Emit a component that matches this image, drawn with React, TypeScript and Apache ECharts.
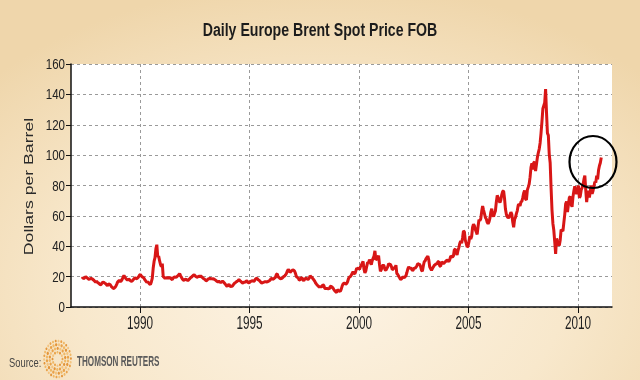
import React, { useEffect, useRef } from "react";
import * as echarts from "echarts";

// Two readings per month (early / late).
const p1987 = [18.5, 19.2, 18.7, 19.3, 20.0, 19.5, 19.0, 18.4, 18.2, 18.6, 18.9, 18.6, 18.1, 17.6, 16.9, 16.2]; // May–Dec
const p1988 = [17.0, 16.2, 15.8, 15.3, 14.6, 14.9, 15.8, 16.3, 16.2, 15.6, 15.4, 14.6, 14.0, 15.2, 15.0, 14.6, 13.6, 13.0, 12.4, 12.2, 12.8, 13.6, 14.9, 16.4];
const p1989 = [17.0, 17.6, 16.8, 17.2, 18.2, 19.6, 20.8, 19.8, 18.8, 18.2, 17.6, 18.3, 18.0, 17.4, 16.9, 17.2, 17.8, 18.6, 19.2, 18.8, 18.6, 19.2, 19.8, 21.0];
const p1990 = [21.5, 20.4, 19.8, 19.5, 18.9, 17.8, 17.0, 16.2, 16.8, 15.9, 15.2, 14.8, 16.5, 18.8, 25.5, 30.0, 32.5, 38.5, 41.0, 33.0, 33.5, 30.5, 28.0, 26.5];
const p1991 = [28.5, 20.0, 19.5, 18.8, 19.3, 19.0, 19.5, 19.0, 19.2, 19.3, 18.4, 18.0, 19.2, 19.6, 19.8, 19.4, 20.0, 20.6, 21.2, 22.0, 20.6, 19.5, 18.5, 17.8];
const p1992 = [17.6, 18.4, 18.2, 17.8, 17.4, 18.0, 18.6, 19.4, 19.7, 20.3, 21.0, 21.2, 20.5, 19.9, 19.6, 19.8, 20.3, 20.1, 20.4, 19.9, 19.4, 18.8, 18.4, 18.0];
const p1993 = [17.2, 17.6, 18.3, 18.6, 18.8, 18.5, 18.7, 18.5, 18.6, 18.2, 17.9, 17.4, 16.8, 16.5, 16.9, 16.5, 16.0, 16.5, 17.0, 16.5, 15.8, 15.0, 14.2, 13.6];
const p1994 = [14.4, 14.9, 13.9, 13.5, 13.6, 13.9, 14.8, 15.6, 16.0, 16.6, 16.9, 17.4, 18.0, 17.4, 16.9, 16.3, 15.8, 16.0, 16.5, 16.1, 17.3, 17.0, 16.2, 15.8];
const p1995 = [16.5, 16.9, 17.1, 17.3, 16.9, 17.2, 18.4, 18.9, 18.7, 18.0, 17.6, 17.0, 16.3, 15.8, 16.0, 16.3, 16.5, 16.8, 16.4, 16.6, 16.9, 17.2, 17.6, 18.6];
const p1996 = [18.9, 18.3, 18.5, 19.1, 19.6, 21.5, 21.8, 19.8, 19.4, 18.7, 18.6, 18.9, 19.4, 20.1, 20.3, 21.1, 22.1, 23.6, 24.8, 23.9, 22.8, 23.4, 24.0, 24.5];
const p1997 = [24.2, 23.5, 22.0, 19.8, 19.6, 19.0, 17.8, 17.9, 19.0, 19.4, 17.9, 17.2, 18.3, 18.8, 18.9, 18.2, 18.3, 19.0, 20.6, 19.8, 19.5, 18.6, 17.9, 17.0];
const p1998 = [15.8, 15.0, 14.3, 13.8, 13.0, 13.8, 13.3, 13.5, 14.7, 14.1, 12.4, 12.0, 12.5, 11.8, 12.2, 11.9, 13.4, 13.7, 13.0, 12.5, 11.5, 10.7, 10.0, 9.6];
const p1999 = [11.3, 10.9, 10.5, 10.2, 11.6, 13.6, 15.2, 15.6, 15.6, 15.0, 15.4, 16.6, 18.6, 19.8, 19.9, 20.8, 22.1, 23.2, 22.2, 21.8, 23.6, 25.5, 25.2, 25.8];
const p2000 = [24.6, 26.4, 27.5, 28.8, 30.0, 25.0, 22.5, 23.8, 26.8, 29.4, 29.0, 31.2, 29.5, 27.8, 30.5, 32.0, 33.5, 37.0, 31.0, 31.5, 32.4, 33.8, 28.0, 23.5];
const p2001 = [24.6, 27.0, 27.8, 27.0, 24.6, 24.2, 25.3, 26.4, 28.5, 28.1, 28.0, 26.8, 24.6, 24.9, 26.3, 25.5, 27.5, 22.0, 21.5, 20.2, 19.2, 18.2, 18.5, 19.2];
const p2002 = [19.8, 19.2, 19.9, 20.6, 22.7, 25.0, 26.5, 25.3, 25.7, 25.3, 24.0, 24.4, 25.8, 25.4, 26.2, 27.2, 28.5, 28.2, 28.0, 26.8, 24.2, 23.5, 27.0, 29.8];
const p2003 = [30.4, 31.8, 32.6, 33.5, 31.0, 26.5, 25.2, 24.2, 25.3, 26.4, 27.4, 27.9, 28.5, 28.2, 29.7, 30.0, 27.0, 26.8, 29.6, 29.3, 28.6, 29.0, 29.8, 30.2];
const p2004 = [31.0, 30.5, 29.8, 31.2, 33.5, 33.2, 32.8, 33.6, 37.8, 38.0, 36.0, 34.2, 37.2, 39.3, 42.0, 43.5, 42.0, 45.5, 50.0, 49.6, 44.0, 42.0, 39.5, 40.0];
const p2005 = [43.0, 46.8, 44.7, 46.5, 52.5, 54.5, 53.5, 51.0, 49.5, 47.8, 53.0, 57.5, 56.8, 58.2, 63.0, 66.5, 63.8, 61.5, 59.0, 58.0, 55.8, 54.8, 56.0, 58.5];
const p2006 = [62.5, 64.8, 60.5, 59.6, 61.6, 63.2, 69.0, 73.5, 72.0, 69.8, 68.8, 70.6, 74.0, 76.2, 76.5, 71.5, 64.5, 61.0, 59.5, 58.6, 59.2, 60.6, 62.5, 61.0];
const p2007 = [56.0, 52.5, 57.6, 59.0, 61.5, 63.5, 67.0, 67.8, 66.5, 69.2, 69.6, 72.0, 75.0, 76.8, 71.0, 70.5, 77.0, 78.9, 81.0, 85.5, 92.0, 94.6, 90.5, 95.0];
const p2008 = [95.5, 89.5, 94.0, 98.5, 101.5, 104.0, 108.0, 114.5, 122.0, 130.5, 132.5, 134.5, 143.5, 128.0, 114.5, 113.0, 100.5, 95.0, 78.5, 64.0, 55.0, 50.5, 43.0, 35.0];
const p2009 = [45.0, 43.5, 41.5, 40.5, 44.0, 51.0, 50.5, 50.0, 55.5, 61.0, 68.0, 69.5, 62.5, 67.5, 72.0, 72.8, 67.5, 66.0, 72.5, 76.5, 79.5, 76.0, 74.5, 76.5];
const p2010 = [80.0, 72.0, 73.0, 77.0, 78.5, 80.5, 84.0, 86.5, 77.0, 69.0, 74.5, 76.5, 72.0, 76.5, 80.0, 74.5, 76.5, 79.5, 82.5, 82.0, 86.5, 84.0, 90.0, 93.0];
const p2011 = [95.0, 98.5]; // Jan

const seriesYears = [1987, 1988, 1989, 1990, 1991, 1992, 1993, 1994, 1995, 1996, 1997, 1998, 1999, 2000, 2001, 2002, 2003, 2004, 2005, 2006, 2007, 2008, 2009, 2010, 2011];
const seriesPrices = [p1987, p1988, p1989, p1990, p1991, p1992, p1993, p1994, p1995, p1996, p1997, p1998, p1999, p2000, p2001, p2002, p2003, p2004, p2005, p2006, p2007, p2008, p2009, p2010, p2011];
const firstMonthOf1987 = 4; // series starts in May 1987

const xTickValues = [1990, 1995, 2000, 2005, 2010];
const yTickValues = [0, 20, 40, 60, 80, 100, 120, 140, 160];
const titleText = "Daily Europe Brent Spot Price FOB";
const yAxisTitle = "Dollars per Barrel";
const sourceLabel = "Source:";
const sourceName = "THOMSON REUTERS";

const SANS = "'Liberation Sans', Arial, sans-serif";

function buildData(): [number, number][] {
  const out: [number, number][] = [];
  seriesYears.forEach((yr, yi) => {
    const start = yr === 1987 ? firstMonthOf1987 : 0;
    seriesPrices[yi].forEach((v, i) => {
      const month = start + Math.floor(i / 2);
      const frac = i % 2 === 0 ? 0.22 : 0.72;
      out.push([yr + (month + frac) / 12, v]);
    });
  });
  return out;
}

function logoDots() {
  const rings = [
    { r: 5, n: 12, s: 1.0 },
    { r: 7.8, n: 18, s: 1.15 },
    { r: 10.6, n: 24, s: 1.2 },
    { r: 13.4, n: 30, s: 1.0 },
  ];
  const cols = ["#e9a24a", "#f0b865", "#e3953a", "#f3c480"];
  const els: any[] = [];
  rings.forEach((ring, ri) => {
    for (let k = 0; k < ring.n; k++) {
      const a = (k / ring.n) * Math.PI * 2 + ri * 0.2;
      els.push({
        type: "ellipse",
        shape: { cx: 57.5 + ring.r * Math.cos(a), cy: 359 + ring.r * 1.35 * Math.sin(a), rx: ring.s, ry: ring.s * 1.3 },
        style: { fill: cols[(k + ri) % cols.length] },
        silent: true,
      });
    }
  });
  return els;
}

export default function App() {
  const ref = useRef<HTMLDivElement>(null);
  useEffect(() => {
    if (!ref.current) return;
    const chart = echarts.init(ref.current, undefined, { renderer: "svg" });
    const gridLine = { show: true, lineStyle: { color: "#9a9a9a", type: [3, 3], width: 1 } };
    chart.setOption({
      animation: false,
      backgroundColor: "transparent",
      grid: {
        left: 71,
        right: 28,
        top: 64,
        bottom: 73,
        show: true,
        backgroundColor: "#ffffff",
        borderWidth: 0,
      },
      xAxis: {
        type: "value",
        min: 1986.85,
        max: 2011.55,
        axisLine: { show: true, onZero: false, lineStyle: { color: "#111", width: 1.5 } },
        axisTick: { show: true, length: 6, customValues: xTickValues, lineStyle: { color: "#111" } },
        axisLabel: { show: false, customValues: xTickValues },
        splitLine: gridLine,
      },
      yAxis: {
        type: "value",
        min: 0,
        max: 160,
        interval: 20,
        axisLine: { show: true, lineStyle: { color: "#111", width: 1.5 } },
        axisTick: { show: true, length: 5, lineStyle: { color: "#111" } },
        axisLabel: { show: false },
        splitLine: gridLine,
      },
      series: [
        {
          type: "line",
          data: buildData(),
          showSymbol: false,
          symbol: "none",
          lineStyle: { color: "#d81616", width: 3 },
          z: 5,
        },
      ],
    });

    const texts: any[] = [];
    yTickValues.forEach((v) => {
      const py = chart.convertToPixel({ yAxisIndex: 0 }, v) as number;
      texts.push({
        type: "text",
        x: 65,
        y: py,
        scaleX: 0.77,
        style: { text: String(v), x: 0, y: 0, align: "right", verticalAlign: "middle", font: "15px " + SANS, fill: "#222" },
      });
    });
    xTickValues.forEach((v) => {
      const px = chart.convertToPixel({ xAxisIndex: 0 }, v) as number;
      texts.push({
        type: "text",
        x: px,
        y: 322,
        scaleX: 0.62,
        style: { text: String(v), x: 0, y: 0, align: "center", verticalAlign: "middle", font: "19px " + SANS, fill: "#222" },
      });
    });

    chart.setOption({
      graphic: [
        {
          type: "text",
          x: 320,
          y: 29,
          scaleX: 0.76,
          style: { text: titleText, x: 0, y: 0, align: "center", verticalAlign: "middle", font: "bold 18.6px " + SANS, fill: "#1c1c1c" },
        },
        {
          type: "text",
          x: 28,
          y: 186.5,
          rotation: Math.PI / 2,
          scaleX: 1.36,
          style: { text: yAxisTitle, x: 0, y: 0, align: "center", verticalAlign: "middle", font: "13px " + SANS, fill: "#2a2a2a" },
        },
        ...texts,
        {
          type: "ellipse",
          shape: { cx: 593, cy: 162, rx: 23.5, ry: 26 },
          style: { fill: "none", stroke: "#000", lineWidth: 2.2 },
          z: 20,
        },
        {
          type: "text",
          x: 9,
          y: 362.5,
          scaleX: 0.78,
          style: { text: sourceLabel, x: 0, y: 0, align: "left", verticalAlign: "middle", font: "12px " + SANS, fill: "#444" },
        },
        ...logoDots(),
        {
          type: "text",
          x: 77,
          y: 361,
          scaleX: 0.58,
          style: { text: sourceName, x: 0, y: 0, align: "left", verticalAlign: "middle", font: "bold 14px " + SANS, fill: "#5a5a5a" },
        },
      ],
    });
    return () => chart.dispose();
  }, []);
  return (
    <div
      style={{
        position: "fixed",
        left: 0,
        top: 0,
        width: 640,
        height: 380,
        background: "radial-gradient(ellipse 70% 80% at 50% 75%, #fdf4e6 0%, #f8e8cc 55%, #efd6ab 100%)",
      }}
    >
      <div ref={ref} style={{ width: 640, height: 380 }} />
    </div>
  );
}
